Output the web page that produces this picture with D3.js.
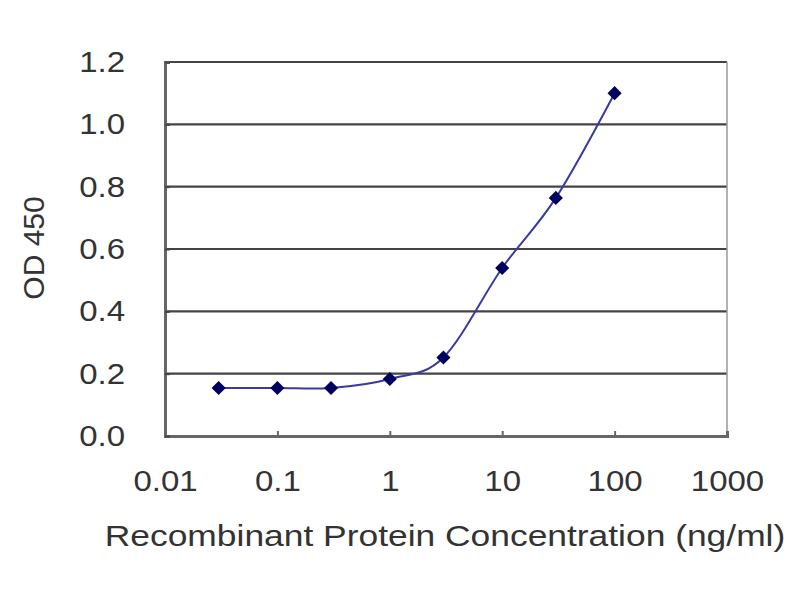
<!DOCTYPE html>
<html><head><meta charset="utf-8">
<script src="https://cdn.jsdelivr.net/npm/d3@7"></script>
<style>body{margin:0;background:#fff}svg{display:block}text{font-family:"Liberation Sans",Arial,sans-serif;fill:#333}</style>
</head><body>
<svg id="chart" width="800" height="600"></svg>
<script>
const concentrations = [0.03, 0.1, 0.3, 1, 3, 10, 30, 100];
const odValues = [0.154, 0.154, 0.154, 0.183, 0.252, 0.539, 0.764, 1.1];
const xTicks = [0.01, 0.1, 1, 10, 100, 1000];
const xTickLabels = ["0.01", "0.1", "1", "10", "100", "1000"];
const yTicks = [0, 0.2, 0.4, 0.6, 0.8, 1.0, 1.2];
const yTickLabels = ["0.0", "0.2", "0.4", "0.6", "0.8", "1.0", "1.2"];
const xTitle = "Recombinant Protein Concentration (ng/ml)";
const yTitle = "OD 450";

const svg = d3.select("#chart");
const L = 165, R = 727, T = 62, B = 436;
const x = d3.scaleLog().domain([0.01, 1000]).range([L, R]);
const y = d3.scaleLinear().domain([0, 1.2]).range([B, T]);

// gridlines
svg.append("g").selectAll("line").data(yTicks.slice(1)).join("line")
  .attr("x1", L).attr("x2", R).attr("y1", d => y(d)).attr("y2", d => y(d))
  .attr("stroke", "#444").attr("stroke-width", 2.2);
// right border
svg.append("line").attr("x1", R).attr("x2", R).attr("y1", T).attr("y2", B)
  .attr("stroke", "#999").attr("stroke-width", 1.5);

const sxTick = 1.1, sxTitle = 1.18;

// axes
const xAxis = d3.axisBottom(x).tickValues(xTicks).tickSize(-5).tickFormat((d, i) => xTickLabels[i]).tickPadding(34);
const gx = svg.append("g").attr("transform", `translate(0,${B})`).call(xAxis);
gx.select(".domain").attr("stroke", "#666").attr("stroke-width", 3);
gx.selectAll(".tick line").attr("stroke", "#666").attr("stroke-width", 2);
gx.selectAll("text").attr("font-size", 30).attr("fill", "#333")
  .attr("transform", `scale(${sxTick},1)`);

const yAxis = d3.axisLeft(y).tickValues(yTicks).tickSize(-5).tickFormat((d, i) => yTickLabels[i]).tickPadding(40);
const gy = svg.append("g").attr("transform", `translate(${L},0)`).call(yAxis);
gy.select(".domain").attr("stroke", "#666").attr("stroke-width", 3);
gy.selectAll(".tick line").attr("stroke", "#444").attr("stroke-width", 2);
gy.selectAll("text").attr("font-size", 30).attr("fill", "#333")
  .attr("x", -40 / sxTick).attr("transform", `scale(${sxTick},1)`);

// titles
svg.append("text").attr("transform", `translate(445,546) scale(${sxTitle},1)`).attr("text-anchor", "middle")
  .attr("font-size", 30).text(xTitle);
svg.append("text").attr("transform", "translate(44,248) rotate(-90)").attr("text-anchor", "middle")
  .attr("font-size", 30).text(yTitle);

// line
const pts = concentrations.map((c, i) => [c, odValues[i]]);
const line = d3.line().x(d => x(d[0])).y(d => y(d[1])).curve(d3.curveCatmullRom.alpha(0));
svg.append("path").datum(pts).attr("d", line).attr("fill", "none")
  .attr("stroke", "#3a3aa0").attr("stroke-width", 2);

// markers
svg.append("g").selectAll("path").data(pts).join("path")
  .attr("transform", d => `translate(${x(d[0])},${y(d[1])}) rotate(45)`)
  .attr("d", d3.symbol().type(d3.symbolSquare).size(100))
  .attr("fill", "#000060");
</script>
</body></html>
